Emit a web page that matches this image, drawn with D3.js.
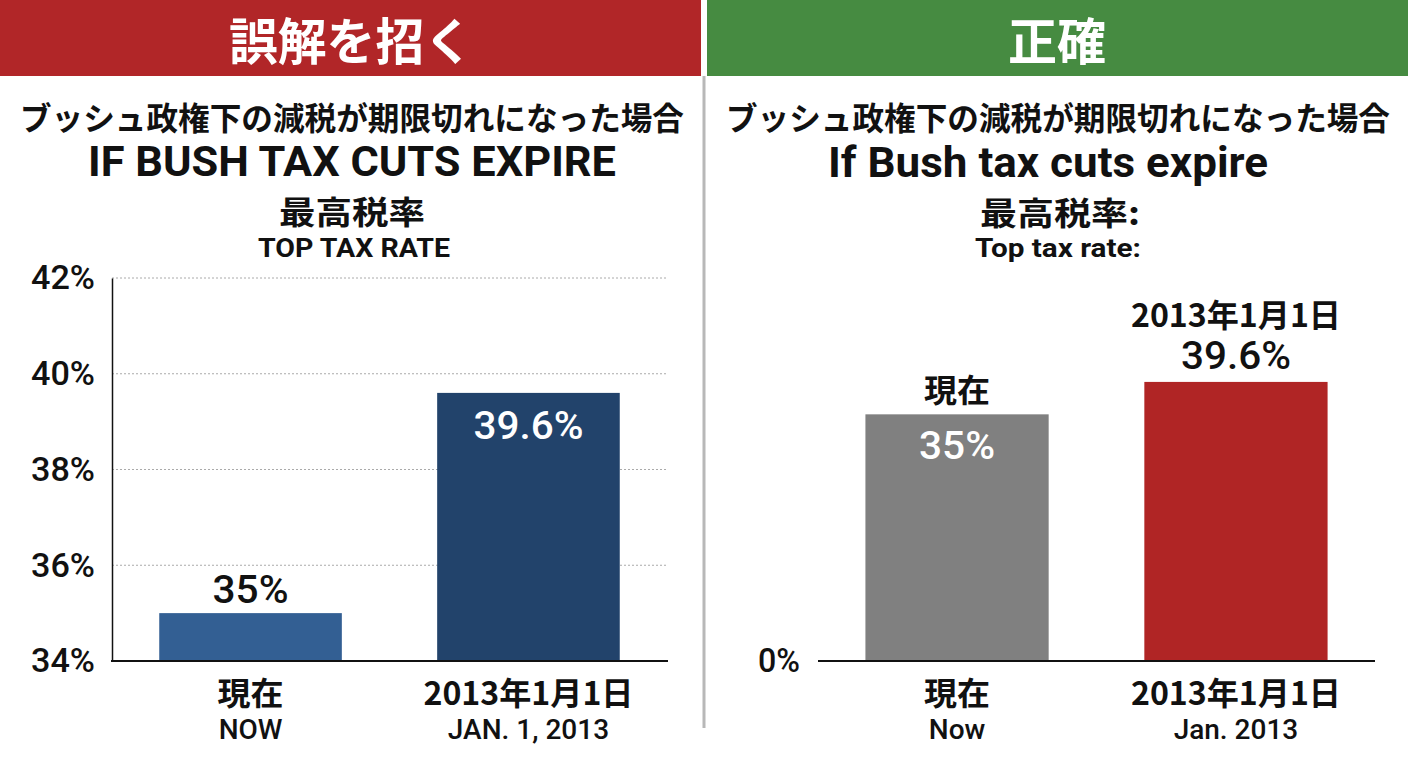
<!DOCTYPE html>
<html>
<head>
<meta charset="utf-8">
<script src="https://cdn.jsdelivr.net/npm/d3@7"></script>
<style>
body{margin:0;background:#fff;}
svg{display:block;}
.cjk{font-family:"Noto Sans CJK JP","Noto Sans",sans-serif;font-weight:700;}
.nar{font-family:"Roboto","Liberation Sans",sans-serif;}
</style>
</head>
<body>
<svg id="chart" width="1408" height="768"></svg>
<script>
// data
var categories=["現在","2013年1月1日"];
var catEnLeft=["NOW","JAN. 1, 2013"];
var catEnRight=["Now","Jan. 2013"];
var rates=[35,39.6];
var rateLabels=["35%","39.6%"];
var leftTicks=[34,36,38,40,42];
var rightTicks=[0];

var svg=d3.select("#chart");
var baseY=661;
var catLen=[66,210];   //drawn widths of the japanese category labels

// header bands
svg.append("rect").attr("x",0).attr("y",0).attr("width",701).attr("height",76).attr("fill","#b12628");
svg.append("rect").attr("x",707).attr("y",0).attr("width",701).attr("height",76).attr("fill","#468b41");
svg.append("line").attr("x1",704).attr("x2",704).attr("y1",76).attr("y2",728).attr("stroke","#b8b8b8").attr("stroke-width",3);

function txt(x,y,s,size,cls,len,fill){
	var t=svg.append("text")
		.attr("x",x).attr("y",y)
		.attr("class",cls)
		.attr("text-anchor","middle")
		.attr("dominant-baseline","central")
		.attr("font-size",size)
		.attr("fill",fill||"#111")
		.text(s);
	if(len){ t.attr("textLength",len).attr("lengthAdjust","spacingAndGlyphs"); }
	return t;
}

//titles
txt(351,38,"誤解を招く",50,"cjk",244,"#fff");
txt(1057,38,"正確",50,"cjk",98,"#fff");

txt(352,116,"ブッシュ政権下の減税が期限切れになった場合",32,"cjk",664);
txt(1058,116,"ブッシュ政権下の減税が期限切れになった場合",32,"cjk",664);
txt(352,161,"IF BUSH TAX CUTS EXPIRE",42,"nar",528).attr("font-weight",700);
txt(1048,162,"If Bush tax cuts expire",42,"nar",440).attr("font-weight",700);
txt(352,210,"最高税率",32,"cjk",146);
txt(1060,211,"最高税率:",32,"cjk",160);
txt(354,248,"TOP TAX RATE",26,"nar",192).attr("font-weight",700);
txt(1058,248,"Top tax rate:",26,"nar",166).attr("font-weight",700);

// left chart (misleading, truncated axis)
var xL=d3.scaleBand().domain(categories).range([112,667]).paddingInner(0.343).paddingOuter(0.17);
var yL=d3.scaleLinear().domain([34,42]).range([baseY,278]);

var gL=svg.append("g");
gL.selectAll(".grid").data(leftTicks.slice(1))
	.enter().append("line")
	.attr("x1",112).attr("x2",667)
	.attr("y1",function(d){return yL(d);}).attr("y2",function(d){return yL(d);})
	.attr("stroke","#aaa").attr("stroke-dasharray","2,2");

gL.selectAll(".bar").data(rates)
	.enter().append("rect")
	.attr("x",function(d,i){return xL(categories[i]);})
	.attr("y",function(d){return yL(d);})
	.attr("width",xL.bandwidth())
	.attr("height",function(d){return baseY-yL(d);})
	.attr("fill",function(d,i){return i===0?"#335f93":"#22436b";});

var axL=gL.append("g").attr("transform","translate(112,0)")
	.call(d3.axisLeft(yL).tickValues(leftTicks).tickSize(0).tickPadding(17).tickFormat(function(d){return d+"%";}));
axL.select(".domain").attr("stroke","#111").attr("stroke-width",1.5);
axL.selectAll("text").attr("class","nar").attr("font-size",34).attr("font-weight",500).attr("fill","#111")
	.attr("textLength",64).attr("lengthAdjust","spacingAndGlyphs");
gL.append("line").attr("x1",111).attr("x2",668).attr("y1",baseY).attr("y2",baseY).attr("stroke","#111").attr("stroke-width",2);

// value labels left
txt(xL(categories[0])+xL.bandwidth()/2,yL(rates[0])-23,rateLabels[0],38,"nar",76).attr("font-weight",500);
txt(xL(categories[1])+xL.bandwidth()/2,yL(rates[1])+33,rateLabels[1],38,"nar",110,"#fff").attr("font-weight",500);

categories.forEach(function(c,i){
	var cx=xL(c)+xL.bandwidth()/2;
	txt(cx,691,c,32,"cjk",catLen[i]);
	txt(cx,729,catEnLeft[i],28,"nar").attr("font-weight",500);
});

// right chart (accurate, zero-based)
var xR=d3.scaleBand().domain(categories).range([818,1375]).paddingInner(0.343).paddingOuter(0.17);
var yR=d3.scaleLinear().domain([0,42]).range([baseY,365]);

var gR=svg.append("g");
gR.selectAll(".bar").data(rates)
	.enter().append("rect")
	.attr("x",function(d,i){return xR(categories[i]);})
	.attr("y",function(d){return yR(d);})
	.attr("width",xR.bandwidth())
	.attr("height",function(d){return baseY-yR(d);})
	.attr("fill",function(d,i){return i===0?"#808080":"#b02525";});

var axR=gR.append("g").attr("transform","translate(818,0)")
	.call(d3.axisLeft(yR).tickValues(rightTicks).tickSize(0).tickPadding(18).tickFormat(function(d){return d+"%";}));
axR.select(".domain").remove();
axR.selectAll("text").attr("class","nar").attr("font-size",34).attr("font-weight",500).attr("fill","#111")
	.attr("textLength",42).attr("lengthAdjust","spacingAndGlyphs");
gR.append("line").attr("x1",818).attr("x2",1375).attr("y1",baseY).attr("y2",baseY).attr("stroke","#111").attr("stroke-width",2);

var c0=xR(categories[0])+xR.bandwidth()/2, c1=xR(categories[1])+xR.bandwidth()/2;
txt(c0,yR(rates[0])-26,categories[0],32,"cjk",catLen[0]);
txt(c0,yR(rates[0])+32,rateLabels[0],38,"nar",76,"#fff").attr("font-weight",500);
txt(c1,yR(rates[1])-69,categories[1],32,"cjk",catLen[1]);
txt(c1,yR(rates[1])-26,rateLabels[1],38,"nar",110).attr("font-weight",500);

categories.forEach(function(c,i){
	var cx=xR(c)+xR.bandwidth()/2;
	txt(cx,691,c,32,"cjk",catLen[i]);
	txt(cx,729,catEnRight[i],28,"nar").attr("font-weight",500);
});
</script>
</body>
</html>
